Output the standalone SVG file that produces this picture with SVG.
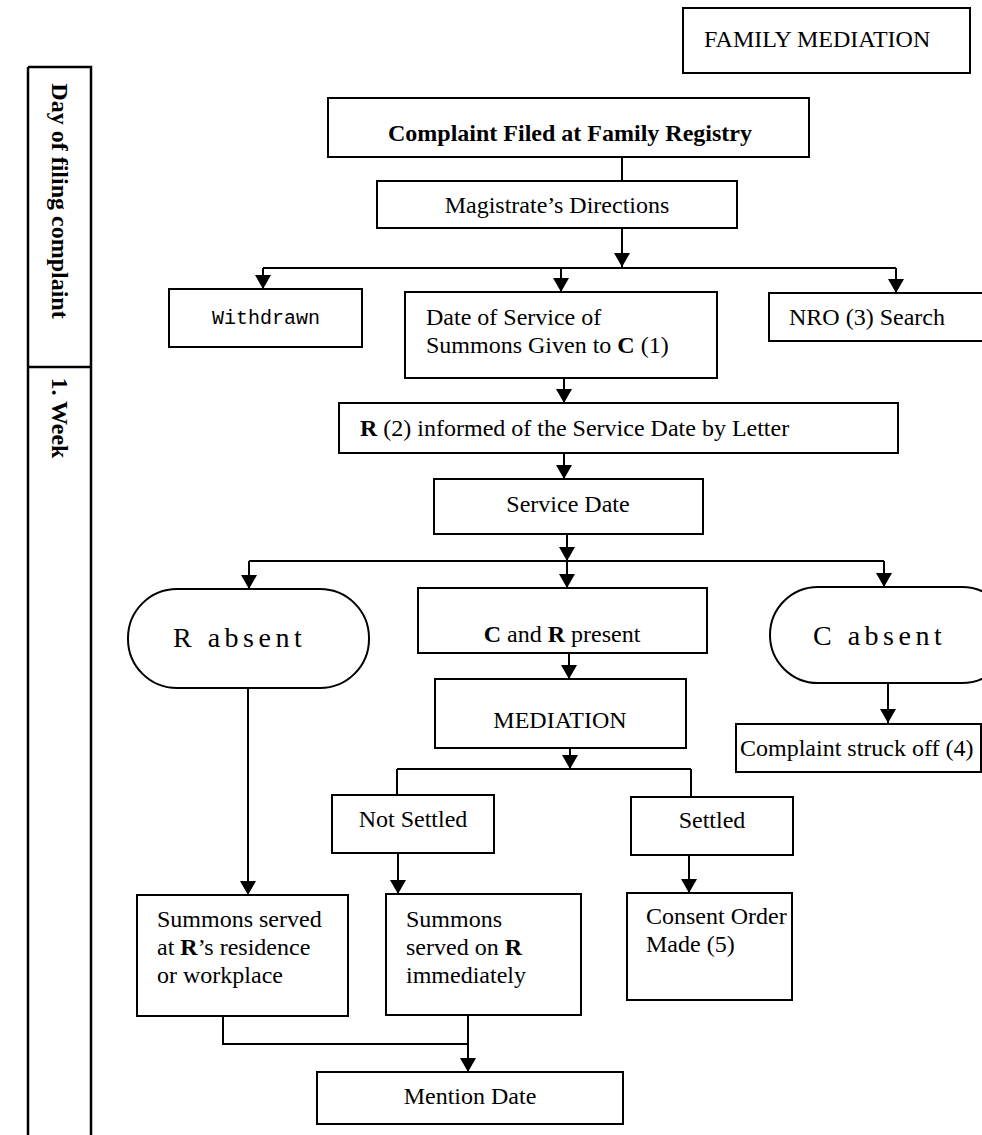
<svg xmlns="http://www.w3.org/2000/svg" width="982" height="1135" viewBox="0 0 982 1135">
<defs>
<marker id="ah" viewBox="0 0 14 16" refX="14" refY="8" markerWidth="14" markerHeight="16" orient="auto" markerUnits="userSpaceOnUse">
<path d="M0,0 L14,8 L0,16 z" fill="#000"/>
</marker>
</defs>
<style>
.box{fill:#fff;stroke:#000;stroke-width:2}
.t{font-family:"Liberation Serif","Times New Roman",serif;font-size:24px;fill:#000}
.b{font-weight:bold}
.m{font-family:"Liberation Mono","Courier New",monospace;font-size:20px;fill:#000}
.big{font-family:"Liberation Serif","Times New Roman",serif;font-size:28px;letter-spacing:4.5px;fill:#000}
.c{fill:none;stroke:#000;stroke-width:2}
.a{fill:none;stroke:#000;stroke-width:2;marker-end:url(#ah)}
.side{fill:none;stroke:#000;stroke-width:2.5}
</style>
<rect width="982" height="1135" fill="#fff"/>

<g id="sidebar">
<path class="side" d="M28,67 H91 V1135 M28,67 V1135 M28,367 H91"/>
<text class="t b" transform="translate(52,201) rotate(90)" text-anchor="middle">Day of filing complaint</text>
<text class="t b" transform="translate(52,418) rotate(90)" text-anchor="middle">1. Week</text>
</g>

<g id="connectors">
<line class="c" x1="622" y1="157" x2="622" y2="181"/>
<line class="a" x1="622" y1="228" x2="622" y2="267"/>
<line class="c" x1="263" y1="268" x2="896" y2="268"/>
<line class="a" x1="263" y1="268" x2="263" y2="289"/>
<line class="a" x1="561" y1="268" x2="561" y2="292"/>
<line class="a" x1="896" y1="268" x2="896" y2="293"/>
<line class="a" x1="564" y1="378" x2="564" y2="403"/>
<line class="a" x1="564" y1="453" x2="564" y2="479"/>
<line class="a" x1="567" y1="534" x2="567" y2="561"/>
<line class="c" x1="249" y1="561" x2="884" y2="561"/>
<line class="a" x1="249" y1="561" x2="249" y2="589"/>
<line class="a" x1="567" y1="561" x2="567" y2="588"/>
<line class="a" x1="884" y1="561" x2="884" y2="587"/>
<line class="a" x1="569" y1="653" x2="569" y2="679"/>
<line class="a" x1="570" y1="748" x2="570" y2="769"/>
<line class="c" x1="397" y1="769" x2="691" y2="769"/>
<line class="c" x1="397" y1="769" x2="397" y2="795"/>
<line class="c" x1="691" y1="769" x2="691" y2="797"/>
<line class="a" x1="248" y1="688" x2="248" y2="895"/>
<line class="a" x1="398" y1="853" x2="398" y2="894"/>
<line class="a" x1="689" y1="855" x2="689" y2="893"/>
<line class="a" x1="888" y1="683" x2="888" y2="723"/>
<polyline class="c" points="223,1016 223,1044 468,1044"/>
<line class="a" x1="468" y1="1015" x2="468" y2="1072"/>
</g>

<g id="family-mediation">
<rect class="box" x="683" y="8" width="287" height="65"/>
<text class="t" x="704" y="47">FAMILY MEDIATION</text>
</g>

<g id="complaint-filed">
<rect class="box" x="328" y="98" width="481" height="59"/>
<text class="t b" x="388" y="141">Complaint Filed at Family Registry</text>
</g>

<g id="magistrate">
<rect class="box" x="377" y="181" width="360" height="47"/>
<text class="t" x="557" y="213" text-anchor="middle">Magistrate’s Directions</text>
</g>

<g id="withdrawn">
<rect class="box" x="169" y="289" width="193" height="58"/>
<text class="m" x="212" y="324">Withdrawn</text>
</g>

<g id="date-of-service">
<rect class="box" x="405" y="292" width="312" height="86"/>
<text class="t" x="426" y="325">Date of Service of</text>
<text class="t" x="426" y="353">Summons Given to <tspan class="b">C</tspan> (1)</text>
</g>

<g id="nro-search">
<rect class="box" x="769" y="293" width="230" height="48"/>
<text class="t" x="789" y="325">NRO (3) Search</text>
</g>

<g id="r-informed">
<rect class="box" x="339" y="403" width="559" height="50"/>
<text class="t" x="360" y="436"><tspan class="b">R</tspan> (2) informed of the Service Date by Letter</text>
</g>

<g id="service-date">
<rect class="box" x="434" y="479" width="269" height="55"/>
<text class="t" x="568" y="512" text-anchor="middle">Service Date</text>
</g>

<g id="r-absent">
<rect class="box" x="128" y="589" width="241" height="99" rx="49" ry="49"/>
<text class="big" x="173" y="647">R absent</text>
</g>

<g id="c-and-r-present">
<rect class="box" x="418" y="588" width="289" height="65"/>
<text class="t" x="562" y="642" text-anchor="middle"><tspan class="b">C</tspan> and <tspan class="b">R</tspan> present</text>
</g>

<g id="c-absent">
<rect class="box" x="770" y="587" width="240" height="96" rx="48" ry="48"/>
<text class="big" x="813" y="645">C absent</text>
</g>

<g id="mediation">
<rect class="box" x="435" y="679" width="251" height="69"/>
<text class="t" x="560" y="728" text-anchor="middle">MEDIATION</text>
</g>

<g id="struck-off">
<rect class="box" x="736" y="724" width="245" height="48"/>
<text class="t" x="740" y="756">Complaint struck off (4)</text>
</g>

<g id="not-settled">
<rect class="box" x="332" y="795" width="162" height="58"/>
<text class="t" x="413" y="827" text-anchor="middle">Not Settled</text>
</g>

<g id="settled">
<rect class="box" x="631" y="797" width="162" height="58"/>
<text class="t" x="712" y="828" text-anchor="middle">Settled</text>
</g>

<g id="summons-residence">
<rect class="box" x="137" y="895" width="211" height="121"/>
<text class="t" x="157" y="927">Summons served</text>
<text class="t" x="157" y="955">at <tspan class="b">R</tspan>’s residence</text>
<text class="t" x="157" y="983">or workplace</text>
</g>

<g id="summons-immediately">
<rect class="box" x="386" y="894" width="195" height="121"/>
<text class="t" x="406" y="927">Summons</text>
<text class="t" x="406" y="955">served on <tspan class="b">R</tspan></text>
<text class="t" x="406" y="983">immediately</text>
</g>

<g id="consent-order">
<rect class="box" x="627" y="893" width="165" height="107"/>
<text class="t" x="646" y="924">Consent Order</text>
<text class="t" x="646" y="952">Made (5)</text>
</g>

<g id="mention-date">
<rect class="box" x="317" y="1072" width="306" height="52"/>
<text class="t" x="470" y="1104" text-anchor="middle">Mention Date</text>
</g>
</svg>
